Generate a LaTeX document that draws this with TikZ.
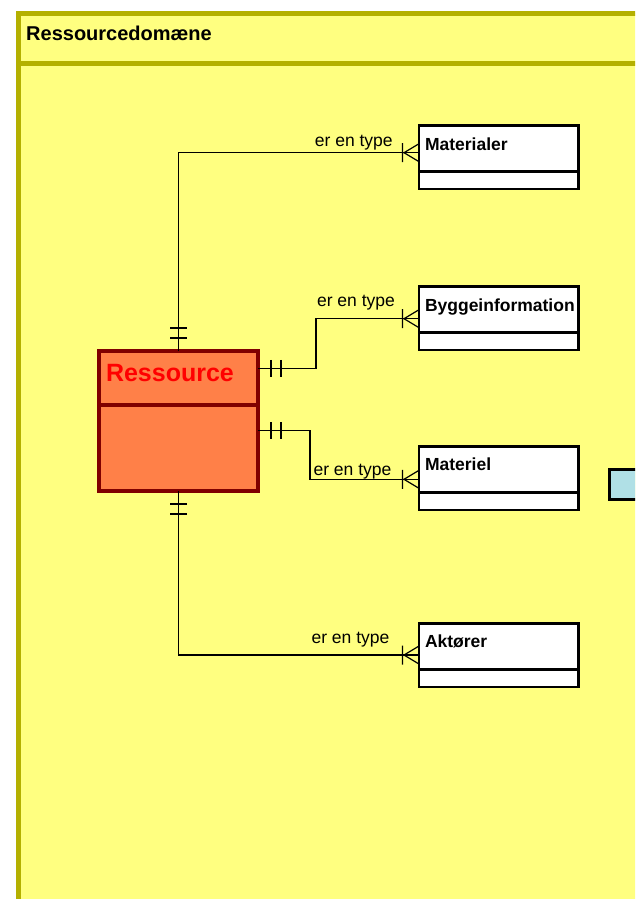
\documentclass[tikz,border=0pt]{standalone}
\usepackage{fontspec}
\setmainfont{Liberation Sans}
\usepackage{tikz}
\usetikzlibrary{positioning}
\definecolor{laneyellow}{RGB}{255,255,128}
\definecolor{laneolive}{RGB}{180,176,0}
\definecolor{resfill}{RGB}{255,128,72}
\definecolor{resdark}{RGB}{128,0,0}
\definecolor{extblue}{RGB}{176,224,230}

\begin{document}
\begin{tikzpicture}[x=1pt, y=-1pt,
  entity/.style={draw, line width=2.5pt, fill=white, outer sep=0pt,
                 anchor=north west, minimum height=46pt,
                 text width=147.5pt, inner xsep=6pt, align=left,
                 text height=12.6pt, text depth=10pt,
                 font=\fontsize{17.5pt}{20pt}\selectfont\bfseries},
  entitybody/.style={draw, line width=2.5pt, fill=white, outer sep=0pt,
                 minimum width=159.5pt, minimum height=17.5pt, inner sep=0pt},
  resbox/.style={draw=resdark, line width=4pt, fill=resfill, outer sep=0pt,
                 minimum width=159pt, inner sep=0pt},
  conn/.style={line width=1.2pt, black},
  lbl/.style={anchor=base east, inner sep=0pt,
              font=\fontsize{17.5pt}{20pt}\selectfont},
  twobar/.pic={\draw[conn] (13,-8.5) -- (13,8.5) (23,-8.5) -- (23,8.5);},
  crow/.pic={\draw[conn] (-16.5,-9.5) -- (-16.5,9.5) (0,-9) -- (-15,0) -- (0,9);}]

  \useasboundingbox (0,0) rectangle (635,899);
  \clip (0,0) rectangle (635,899);
  \fill[white] (0,0) rectangle (635,899);

  % swimlane
  \fill[laneyellow] (18.3,13.5) rectangle (660,920);
  \draw[laneolive, line width=5pt] (18.3,920) -- (18.3,13.5) -- (660,13.5);
  \draw[laneolive, line width=5pt] (18.3,63.5) -- (660,63.5);
  \node[anchor=base west, inner sep=0pt,
        font=\fontsize{20pt}{24pt}\selectfont\bfseries] (lanetitle)
    at (26,40.7) {Ressourcedomæne};

  % Ressource
  \node[resbox, anchor=north west, minimum height=54pt, text width=145pt,
        inner xsep=7pt, align=left, text height=18pt, text depth=12pt,
        text=red, font=\fontsize{25pt}{30pt}\selectfont\bfseries] (res)
    at (99,351) {Ressource};
  \node[resbox, minimum height=86pt, below=0pt of res] (resbody) {};

  % entities
  \node[entity] (mat) at (419,125.7) {Materialer};
  \node[entitybody, below=0pt of mat] (matbody) {};
  \node[entity] (bygg) at (419,286.7) {Byggeinformation};
  \node[entitybody, below=0pt of bygg] (byggbody) {};
  \node[entity] (matl) at (419,446.5) {Materiel};
  \node[entitybody, below=0pt of matl] (matlbody) {};
  \node[entity] (akt) at (419,623.5) {Aktører};
  \node[entitybody, below=0pt of akt] (aktbody) {};

  \node[draw, line width=2.4pt, fill=extblue, outer sep=0pt, anchor=north west,
        minimum width=60pt, minimum height=30pt] (ext) at (609.5,469.5) {};

  % connectors
  \draw[conn] (res.north) |- ([yshift=-27pt]mat.north west)
    node[lbl, pos=1, xshift=-25.7pt, yshift=6pt] {er en type};
  \draw[conn] ([yshift=-17.3pt]res.north east) -- ++(58,0)
    |- ([yshift=-32pt]bygg.north west)
    node[lbl, pos=1, xshift=-23.5pt, yshift=12pt] {er en type};
  \draw[conn] ([yshift=-25.7pt]resbody.north east) -- ++(52,0)
    |- ([yshift=-32.8pt]matl.north west)
    node[lbl, pos=1, xshift=-27pt, yshift=4.3pt] {er en type};
  \draw[conn] (resbody.south) |- ([yshift=-31.5pt]akt.north west)
    node[lbl, pos=1, xshift=-29pt, yshift=12pt] {er en type};

  % ends
  \pic[rotate=90] at (res.north) {twobar};
  \pic at ([yshift=-17.3pt]res.north east) {twobar};
  \pic at ([yshift=-25.7pt]resbody.north east) {twobar};
  \pic[rotate=-90] at (resbody.south) {twobar};
  \pic at ([yshift=-27pt]mat.north west) {crow};
  \pic at ([yshift=-32pt]bygg.north west) {crow};
  \pic at ([yshift=-32.8pt]matl.north west) {crow};
  \pic at ([yshift=-31.5pt]akt.north west) {crow};
\end{tikzpicture}
\end{document}
